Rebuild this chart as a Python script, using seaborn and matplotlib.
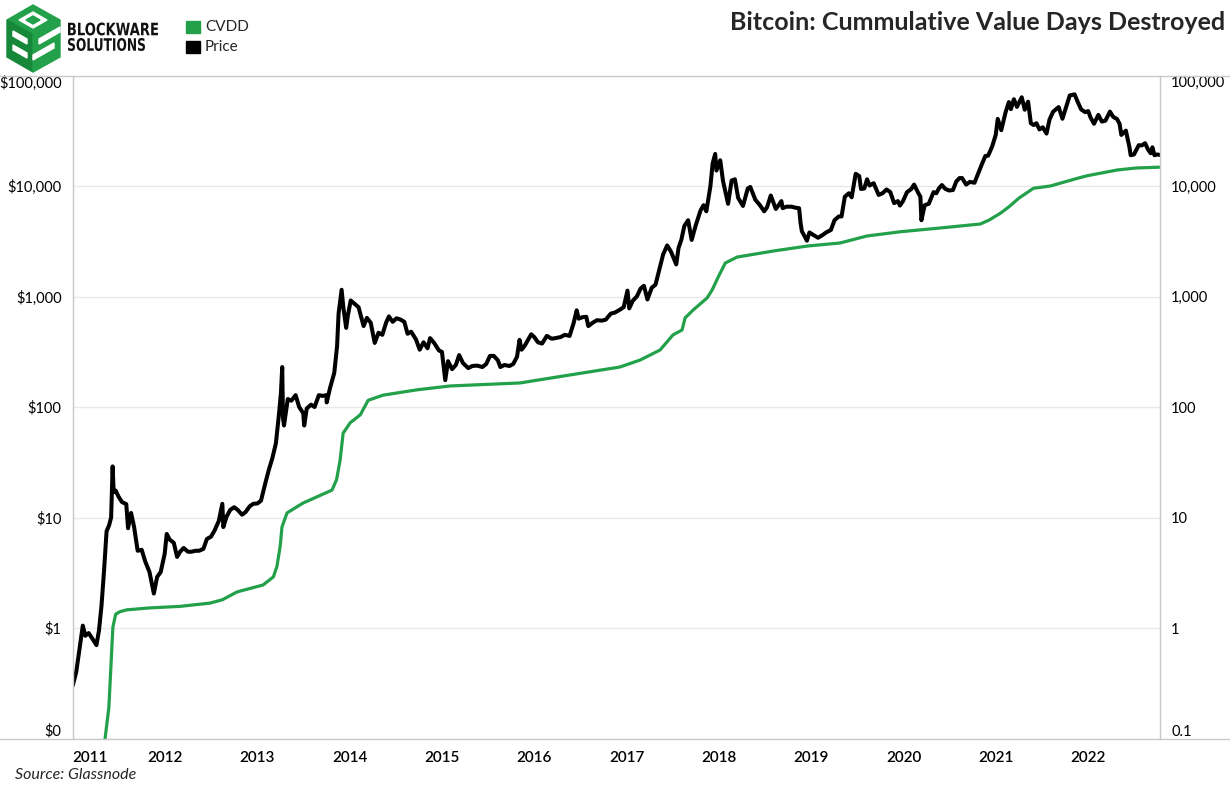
import pandas as pd
import seaborn as sns
import matplotlib.pyplot as plt
from matplotlib.patches import Polygon, Rectangle, PathPatch
from matplotlib.lines import Line2D
from matplotlib.ticker import NullLocator
from matplotlib.textpath import TextPath
from matplotlib.font_manager import FontProperties
from matplotlib.transforms import Affine2D

GREEN = '#22a04a'
GREEN_DARK = '#17873a'
GRID = '#e9e9e9'
FRAME = '#c9c9c9'

# --- data ---
price_dates = [
    '2011-01-01', '2011-01-15', '2011-02-01', '2011-02-10', '2011-02-20', '2011-03-05', '2011-03-20',
    '2011-04-05', '2011-04-15', '2011-04-25', '2011-05-05', '2011-05-15', '2011-05-25', '2011-06-02',
    '2011-06-08', '2011-06-12', '2011-06-20', '2011-07-01', '2011-07-15', '2011-08-01', '2011-08-08',
    '2011-08-20', '2011-09-01', '2011-09-15', '2011-10-01', '2011-10-15', '2011-11-01', '2011-11-18',
    '2011-12-01', '2011-12-15', '2011-12-31',
    '2012-01-08', '2012-01-20', '2012-02-05', '2012-02-18', '2012-03-01', '2012-03-15', '2012-04-01',
    '2012-04-15', '2012-05-01', '2012-05-15', '2012-06-01', '2012-06-15', '2012-07-01', '2012-07-15',
    '2012-08-01', '2012-08-15', '2012-08-19', '2012-09-01', '2012-09-15', '2012-10-01', '2012-10-15',
    '2012-11-01', '2012-11-15', '2012-12-01', '2012-12-15',
    '2013-01-01', '2013-01-15', '2013-02-01', '2013-02-15', '2013-03-01', '2013-03-15', '2013-03-28',
    '2013-04-04', '2013-04-09', '2013-04-12', '2013-04-16', '2013-05-01', '2013-05-15', '2013-06-01',
    '2013-06-15', '2013-07-01', '2013-07-05', '2013-07-15', '2013-08-01', '2013-08-15', '2013-09-01',
    '2013-09-15', '2013-10-01', '2013-10-02', '2013-10-15', '2013-11-01', '2013-11-12', '2013-11-18',
    '2013-11-30', '2013-12-07', '2013-12-18', '2013-12-25',
    '2014-01-05', '2014-01-20', '2014-02-05', '2014-02-25', '2014-03-10', '2014-03-25', '2014-04-10',
    '2014-04-25', '2014-05-10', '2014-05-25', '2014-06-05', '2014-06-20', '2014-07-05', '2014-07-20',
    '2014-08-05', '2014-08-18', '2014-09-01', '2014-09-20', '2014-10-05', '2014-10-20', '2014-11-05',
    '2014-11-15', '2014-12-01', '2014-12-20',
    '2015-01-01', '2015-01-14', '2015-01-25', '2015-02-10', '2015-02-25', '2015-03-10', '2015-03-25',
    '2015-04-15', '2015-05-01', '2015-05-20', '2015-06-10', '2015-06-25', '2015-07-10', '2015-07-25',
    '2015-08-10', '2015-08-20', '2015-09-05', '2015-09-25', '2015-10-10', '2015-10-25', '2015-11-04',
    '2015-11-12', '2015-11-25', '2015-12-10', '2015-12-20',
    '2016-01-01', '2016-01-16', '2016-02-01', '2016-02-20', '2016-03-10', '2016-03-25', '2016-04-15',
    '2016-05-01', '2016-05-20', '2016-06-05', '2016-06-17', '2016-06-25', '2016-07-10', '2016-07-25',
    '2016-08-02', '2016-08-20', '2016-09-05', '2016-09-25', '2016-10-10', '2016-10-30', '2016-11-15',
    '2016-12-01', '2016-12-20',
    '2017-01-04', '2017-01-11', '2017-01-25', '2017-02-10', '2017-02-25', '2017-03-10', '2017-03-24',
    '2017-04-10', '2017-04-25', '2017-05-10', '2017-05-25', '2017-06-10', '2017-06-25', '2017-07-16',
    '2017-07-25', '2017-08-05', '2017-08-17', '2017-09-01', '2017-09-15', '2017-10-01', '2017-10-20',
    '2017-11-01', '2017-11-12', '2017-11-28', '2017-12-07', '2017-12-17', '2017-12-22',
    '2018-01-06', '2018-01-17', '2018-02-06', '2018-02-20', '2018-03-05', '2018-03-18', '2018-04-06',
    '2018-04-25', '2018-05-05', '2018-05-25', '2018-06-10', '2018-06-29', '2018-07-10', '2018-07-25',
    '2018-08-14', '2018-08-25', '2018-09-05', '2018-09-10', '2018-09-25', '2018-10-15', '2018-11-01',
    '2018-11-14', '2018-11-20', '2018-11-25', '2018-12-15', '2018-12-25',
    '2019-01-10', '2019-01-28', '2019-02-15', '2019-03-01', '2019-03-20', '2019-04-03', '2019-04-20',
    '2019-05-01', '2019-05-14', '2019-05-30', '2019-06-10', '2019-06-26', '2019-07-10', '2019-07-17',
    '2019-07-30', '2019-08-10', '2019-08-20', '2019-09-05', '2019-09-25', '2019-10-10', '2019-10-26',
    '2019-11-10', '2019-11-25', '2019-12-10', '2019-12-18', '2019-12-30',
    '2020-01-15', '2020-02-01', '2020-02-12', '2020-02-28', '2020-03-08', '2020-03-12', '2020-03-25',
    '2020-04-10', '2020-04-29', '2020-05-10', '2020-05-20', '2020-06-01', '2020-06-15', '2020-06-30',
    '2020-07-15', '2020-07-28', '2020-08-10', '2020-08-20', '2020-09-05', '2020-09-20', '2020-10-08',
    '2020-10-22', '2020-11-05', '2020-11-20', '2020-12-01', '2020-12-17', '2020-12-31',
    '2021-01-08', '2021-01-22', '2021-02-08', '2021-02-21', '2021-03-01', '2021-03-13', '2021-03-25',
    '2021-04-13', '2021-04-25', '2021-05-08', '2021-05-19', '2021-05-30', '2021-06-10', '2021-06-22',
    '2021-07-05', '2021-07-20', '2021-08-01', '2021-08-15', '2021-09-06', '2021-09-21', '2021-10-01',
    '2021-10-20', '2021-11-08', '2021-11-20', '2021-12-04', '2021-12-20',
    '2022-01-01', '2022-01-10', '2022-01-24', '2022-02-10', '2022-02-24', '2022-03-10', '2022-03-28',
    '2022-04-10', '2022-04-25', '2022-05-05', '2022-05-12', '2022-05-30', '2022-06-13', '2022-06-18',
    '2022-07-01', '2022-07-20', '2022-08-01', '2022-08-14', '2022-08-25', '2022-09-05', '2022-09-12',
    '2022-09-20', '2022-10-01', '2022-10-10',
]
price_values = [
    0.30, 0.40, 0.75, 1.05, 0.85, 0.90, 0.80,
    0.70, 0.95, 1.60, 3.30, 7.50, 8.50, 10.0,
    29.0, 17.0, 17.5, 15.5, 13.8, 13.2, 8.0,
    11.0, 8.2, 5.0, 5.1, 4.0, 3.2, 2.05,
    2.9, 3.2, 4.7,
    7.1, 6.3, 5.9, 4.4, 4.9, 5.3, 4.9,
    4.9, 5.0, 5.0, 5.2, 6.4, 6.7, 7.6,
    9.3, 13.3, 8.2, 10.2, 11.7, 12.4, 11.7,
    10.6, 11.2, 12.6, 13.3,
    13.4, 14.2, 20.4, 27.0, 34.5, 47.0, 90.0,
    135, 230, 80, 68, 118, 114, 128,
    100, 88, 68, 97, 105, 100, 128,
    126, 128, 110, 148, 204, 355, 700,
    1150, 790, 520, 680,
    920, 860, 800, 540, 640, 580, 380,
    470, 450, 580, 660, 590, 635, 620,
    590, 460, 480, 410, 330, 385, 340,
    420, 380, 325,
    315, 175, 260, 220, 240, 295, 250,
    225, 235, 237, 230, 245, 290, 290,
    265, 230, 240, 235, 245, 285, 405,
    330, 360, 415, 455,
    430, 385, 375, 440, 415, 420, 430,
    450, 440, 575, 750, 630, 650, 655,
    540, 580, 610, 605, 617, 700, 715,
    750, 800,
    1130, 780, 915, 1000, 1180, 1250, 940,
    1200, 1280, 1750, 2400, 2900, 2550, 1950,
    2750, 3250, 4350, 4900, 3250, 4400, 6000,
    6700, 5900, 9900, 16000, 19500, 13800,
    17100, 11100, 6900, 11200, 11500, 7800, 6600,
    9500, 9800, 7500, 6800, 5900, 6400, 8200,
    6200, 6700, 7300, 6300, 6500, 6500, 6350,
    6300, 4600, 3900, 3200, 3800,
    3600, 3400, 3600, 3800, 4000, 4900, 5300,
    5300, 8000, 8600, 7900, 12900, 12300, 9400,
    9500, 11500, 10100, 10600, 8300, 8600, 9300,
    8800, 7000, 7300, 6650, 7300,
    8800, 9400, 10300, 8700, 8000, 4900, 6700,
    6900, 8800, 8600, 9500, 10200, 9400, 9100,
    9200, 11000, 11800, 11800, 10300, 10900, 10700,
    12900, 15500, 18700, 18800, 22800, 29000,
    40500, 32000, 46500, 57500, 49600, 61000, 52000,
    63500, 49000, 58000, 37000, 35600, 37000, 32500,
    34000, 29800, 40000, 47000, 51800, 40600, 48000,
    66000, 67500, 58000, 49300, 46600,
    47600, 41800, 36600, 44000, 38300, 39000, 47100,
    42200, 40400, 36500, 29000, 31700, 22500, 19000,
    19300, 23400, 23300, 24400, 21500, 19800, 22400,
    19000, 19300, 19100,
]

cvdd_dates = [
    '2011-05-04', '2011-05-24', '2011-06-09', '2011-06-20', '2011-07-05', '2011-08-03', '2011-11-02',
    '2012-03-01', '2012-06-27', '2012-08-15', '2012-10-12', '2013-01-23', '2013-03-05', '2013-03-19',
    '2013-04-01', '2013-04-08', '2013-04-28', '2013-06-30', '2013-10-23', '2013-11-10', '2013-11-24',
    '2013-12-06', '2014-01-03', '2014-02-12', '2014-03-15', '2014-05-13', '2014-09-24', '2015-02-02',
    '2015-11-05', '2016-05-22', '2016-12-05', '2017-02-23', '2017-05-13', '2017-07-03', '2017-08-08',
    '2017-08-20', '2017-09-21', '2017-11-15', '2017-12-05', '2017-12-29', '2018-01-26', '2018-03-14',
    '2018-08-04', '2018-12-16', '2019-04-25', '2019-08-10', '2019-12-22', '2020-05-26', '2020-10-31',
    '2020-12-05', '2021-01-18', '2021-02-22', '2021-04-01', '2021-05-29', '2021-08-04', '2021-11-20',
    '2021-12-29', '2022-04-26', '2022-07-09', '2022-10-10',
]
cvdd_values = [
    0.08, 0.19, 1.02, 1.33, 1.40, 1.46, 1.52,
    1.57, 1.68, 1.80, 2.12, 2.45, 2.9, 3.6,
    5.5, 8.2, 11.0, 13.5, 17.7, 22, 33,
    58, 72, 85, 115, 128, 143, 155,
    165, 195, 230, 266, 328, 449, 498,
    640, 755, 970, 1145, 1500, 2010, 2275,
    2580, 2860, 3050, 3530, 3860, 4170, 4530,
    4920, 5660, 6500, 7740, 9530, 10000, 11750,
    12400, 13960, 14550, 14800,
]

years = list(range(2011, 2023))
y_ticks = [0.1, 1, 10, 100, 1000, 10000, 100000]
left_labels = ['$0', '$1', '$10', '$100', '$1,000', '$10,000', '$100,000']
right_labels = ['0.1', '1', '10', '100', '1,000', '10,000', '100,000']

W, H = 1230, 795


def fx(px):
    return px / W


def fy(py):
    return 1 - py / H


def squeezed_text(ax, s, x, y_top, width, height):
    # condensed bold wordmark: scale a glyph path into a fixed pixel box
    tp = TextPath((0, 0), s, size=20, prop=FontProperties(family='DejaVu Sans', weight='bold'))
    ext = tp.get_extents()
    tr = (Affine2D().translate(-ext.x0, -ext.y1)
          .scale(width / ext.width, -height / ext.height)
          .translate(x, y_top))
    ax.add_patch(PathPatch(tr.transform_path(tp), color='#111111', lw=0))


sns.set_style('white')
plt.rcParams['font.family'] = ['Lato', 'DejaVu Sans']

df_price = pd.DataFrame({'date': pd.to_datetime(price_dates), 'price': price_values})
df_cvdd = pd.DataFrame({'date': pd.to_datetime(cvdd_dates), 'cvdd': cvdd_values})

fig = plt.figure(figsize=(12.3, 7.95), dpi=100)
ax = fig.add_axes([fx(72.7), fy(738.5), fx(1160) - fx(72.7), fy(75.5) - fy(738.5)])

sns.lineplot(data=df_cvdd, x='date', y='cvdd', ax=ax, color=GREEN, linewidth=2.3)
sns.lineplot(data=df_price, x='date', y='price', ax=ax, color='black', linewidth=2.9)

ax.set_yscale('log')
ax.set_ylim(0.1, 100000)
ax.set_xlim(pd.Timestamp('2011-01-01'), pd.Timestamp('2022-10-12'))
ax.set_xlabel('')
ax.set_ylabel('')
ax.set_yticks(y_ticks)
ax.set_yticklabels(left_labels)
ax.yaxis.set_minor_locator(NullLocator())
ax.set_xticks([pd.Timestamp(f'{y}-01-01') for y in years])
ax.set_xticklabels([str(y) for y in years])
ax.tick_params(axis='both', length=0, colors='black')
ax.tick_params(axis='y', pad=8, labelsize=10.5)
ax.tick_params(axis='x', pad=9, labelsize=11)
for lab in ax.get_xticklabels():
    lab.set_fontweight('semibold')
ax.get_xticklabels()[0].set_ha('left')
ylabs = ax.get_yticklabels()
ylabs[0].set_va('bottom')
ylabs[-1].set_va('top')
ax.yaxis.grid(True, color=GRID, linewidth=1)
ax.xaxis.grid(False)
ax.set_axisbelow(True)
for side in ['top', 'bottom']:
    ax.spines[side].set_visible(False)
for side in ['left', 'right']:
    ax.spines[side].set_color(FRAME)
    ax.spines[side].set_linewidth(1)

ax2 = ax.twinx()
ax2.set_yscale('log')
ax2.set_ylim(0.1, 100000)
ax2.set_yticks(y_ticks)
ax2.set_yticklabels(right_labels)
ax2.yaxis.set_minor_locator(NullLocator())
ax2.tick_params(axis='y', length=0, labelsize=10.5, pad=8, colors='black')
rlabs = ax2.get_yticklabels()
rlabs[0].set_va('bottom')
rlabs[-1].set_va('top')
for side in ax2.spines:
    ax2.spines[side].set_visible(False)

# full-width header and base rules
for py in (75.5, 738.5):
    fig.add_artist(Line2D([0, 1], [fy(py), fy(py)], transform=fig.transFigure,
                          color=FRAME, linewidth=1))

# logo
lg = fig.add_axes([0, fy(75), fx(170), fy(0) - fy(75)])
lg.set_xlim(0, 170)
lg.set_ylim(75, 0)
lg.axis('off')
top = [(33, 5), (7, 20), (33, 35), (60, 20)]
left = [(7, 20), (33, 35), (33, 72), (7, 57)]
right = [(33, 35), (60, 20), (60, 57), (33, 72)]
lg.add_patch(Polygon(top, closed=True, color=GREEN))
lg.add_patch(Polygon([(33, 12), (19, 20), (33, 28), (47, 20)], closed=True, color='white'))
lg.add_patch(Polygon([(33, 16), (26, 20), (33, 24), (40, 20)], closed=True, color=GREEN))
lg.add_patch(Polygon(left, closed=True, color=GREEN_DARK))
lg.add_patch(Polygon([(13, 31), (27, 39), (27, 44), (13, 36)], closed=True, color='white'))
lg.add_patch(Polygon([(13, 45), (27, 53), (27, 58), (13, 50)], closed=True, color='white'))
lg.add_patch(Polygon(right, closed=True, color=GREEN))
lg.add_patch(Polygon([(39, 39), (60, 27), (60, 32), (39, 44)], closed=True, color='white'))
lg.add_patch(Polygon([(33, 55), (54, 43), (54, 48), (33, 60)], closed=True, color='white'))
squeezed_text(lg, 'BLOCKWARE', 68, 22.5, 90, 13)
squeezed_text(lg, 'SOLUTIONS', 68, 38, 77, 13)

# legend
fig.add_artist(Rectangle((fx(186), fy(33)), fx(14), fy(21) - fy(33), transform=fig.transFigure,
                         color=GREEN))
fig.add_artist(Rectangle((fx(186), fy(53)), fx(14), fy(41) - fy(53), transform=fig.transFigure,
                         color='black'))
fig.text(fx(205), fy(27), 'CVDD', fontsize=11, va='center', ha='left')
fig.text(fx(205), fy(47), 'Price', fontsize=11, va='center', ha='left')

fig.text(fx(1225), fy(22), 'Bitcoin: Cummulative Value Days Destroyed', fontsize=18,
         fontweight='bold', ha='right', va='center')
fig.text(fx(15), fy(775), 'Source: Glassnode', fontsize=11.5, style='italic',
         ha='left', va='center')

fig.savefig('out.png', dpi=100)
